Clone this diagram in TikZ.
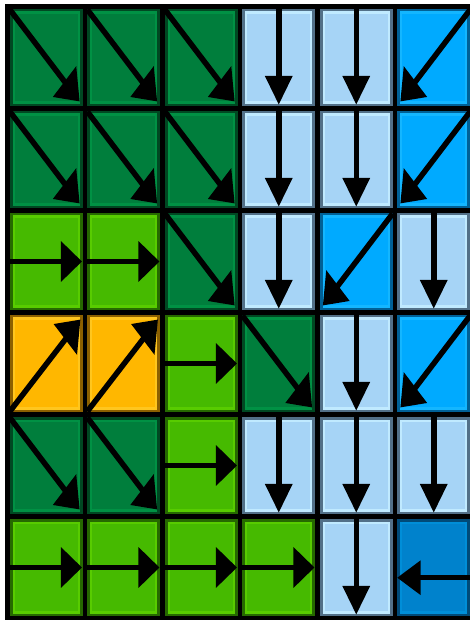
\documentclass[tikz,border=0pt]{standalone}
\definecolor{dgB}{RGB}{0,72,34}\definecolor{dgH}{RGB}{0,145,68}\definecolor{dgF}{RGB}{0,126,60}
\definecolor{lgB}{RGB}{38,105,0}\definecolor{lgH}{RGB}{88,204,0}\definecolor{lgF}{RGB}{70,186,0}
\definecolor{lbB}{RGB}{82,112,136}\definecolor{lbH}{RGB}{192,234,255}\definecolor{lbF}{RGB}{166,212,246}
\definecolor{bbB}{RGB}{0,96,150}\definecolor{bbH}{RGB}{20,182,255}\definecolor{bbF}{RGB}{0,170,255}
\definecolor{orB}{RGB}{140,96,0}\definecolor{orH}{RGB}{255,198,30}\definecolor{orF}{RGB}{255,183,0}
\definecolor{dbB}{RGB}{0,74,120}\definecolor{dbH}{RGB}{0,142,216}\definecolor{dbF}{RGB}{0,130,204}
\tikzset{shaft/.style={line width=5.5pt,black},head/.style={fill=black}}
\newcommand\arSE{\draw[shaft] (0.03,0.03) -- (0.76,0.76); \fill[head] (0.93,0.93) -- (0.887,0.585) -- (0.585,0.887) -- cycle;}
\newcommand\arSW{\draw[shaft] (0.97,0.03) -- (0.24,0.76); \fill[head] (0.07,0.93) -- (0.415,0.887) -- (0.113,0.585) -- cycle;}
\newcommand\arNE{\draw[shaft] (0.03,0.97) -- (0.77,0.24); \fill[head] (0.94,0.07) -- (0.897,0.415) -- (0.595,0.113) -- cycle;}
\newcommand\arD{\draw[shaft] (0.5,0) -- (0.5,0.72); \fill[head] (0.5,0.96) -- (0.32,0.68) -- (0.68,0.68) -- cycle;}
\newcommand\arR{\draw[shaft] (0,0.5) -- (0.72,0.5); \fill[head] (0.96,0.5) -- (0.69,0.30) -- (0.69,0.70) -- cycle;}
\newcommand\arL{\draw[shaft] (1.05,0.6) -- (0.28,0.6); \fill[head] (0.03,0.6) -- (0.33,0.43) -- (0.33,0.77) -- cycle;}
\newcommand\gcell[6]{\begin{scope}[shift={(#1,#2)}]
\fill[#3] (0.026,0.02) rectangle (0.974,0.98);
\fill[#4] (0.065,0.049) rectangle (0.935,0.951);
\fill[#5] (0.091,0.069) rectangle (0.909,0.931);
#6
\end{scope}}
\newcommand\DG[3]{\gcell{#1}{#2}{dgB}{dgH}{dgF}{#3}}
\newcommand\LG[3]{\gcell{#1}{#2}{lgB}{lgH}{lgF}{#3}}
\newcommand\LB[3]{\gcell{#1}{#2}{lbB}{lbH}{lbF}{#3}}
\newcommand\BB[3]{\gcell{#1}{#2}{bbB}{bbH}{bbF}{#3}}
\newcommand\OR[3]{\gcell{#1}{#2}{orB}{orH}{orF}{#3}}
\newcommand\DB[3]{\gcell{#1}{#2}{dbB}{dbH}{dbF}{#3}}
\begin{document}
\begin{tikzpicture}[x=1pt,y=-1pt]
\useasboundingbox (0,0) rectangle (470,620);
\fill[white] (0,0) rectangle (470,620);
\clip (0,0) rectangle (470,620);
\begin{scope}[shift={(7.5,6.5)},x=77.5pt,y=-102pt]
\fill[black] (-0.026,-0.02) rectangle (6.03,6.02);
% row 0
\DG{0}{0}{\arSE}\DG{1}{0}{\arSE}\DG{2}{0}{\arSE}\LB{3}{0}{\arD}\LB{4}{0}{\arD}\BB{5}{0}{\arSW}
% row 1
\DG{0}{1}{\arSE}\DG{1}{1}{\arSE}\DG{2}{1}{\arSE}\LB{3}{1}{\arD}\LB{4}{1}{\arD}\BB{5}{1}{\arSW}
% row 2
\LG{0}{2}{\arR}\LG{1}{2}{\arR}\DG{2}{2}{\arSE}\LB{3}{2}{\arD}\BB{4}{2}{\arSW}\LB{5}{2}{\arD}
% row 3
\OR{0}{3}{\arNE}\OR{1}{3}{\arNE}\LG{2}{3}{\arR}\DG{3}{3}{\arSE}\LB{4}{3}{\arD}\BB{5}{3}{\arSW}
% row 4
\DG{0}{4}{\arSE}\DG{1}{4}{\arSE}\LG{2}{4}{\arR}\LB{3}{4}{\arD}\LB{4}{4}{\arD}\LB{5}{4}{\arD}
% row 5
\LG{0}{5}{\arR}\LG{1}{5}{\arR}\LG{2}{5}{\arR}\LG{3}{5}{\arR}\LB{4}{5}{\arD}\DB{5}{5}{\arL}
\end{scope}
\end{tikzpicture}
\end{document}
